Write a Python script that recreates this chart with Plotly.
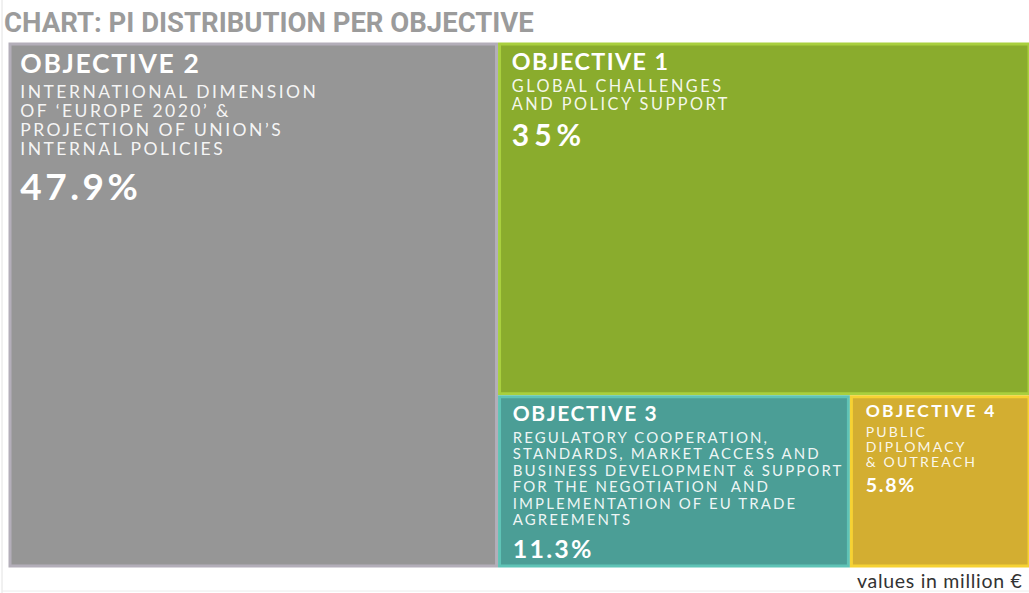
import plotly.graph_objects as go

# ---------------- data ----------------
objectives = ["OBJECTIVE 2", "OBJECTIVE 1", "OBJECTIVE 3", "OBJECTIVE 4"]
descriptions = [
    ["INTERNATIONAL DIMENSION", "OF ‘EUROPE 2020’ &", "PROJECTION OF UNION’S", "INTERNAL POLICIES"],
    ["GLOBAL CHALLENGES", "AND POLICY SUPPORT"],
    ["REGULATORY COOPERATION,", "STANDARDS, MARKET ACCESS AND", "BUSINESS DEVELOPMENT & SUPPORT",
     "FOR THE NEGOTIATION  AND", "IMPLEMENTATION OF EU TRADE", "AGREEMENTS"],
    ["PUBLIC", "DIPLOMACY", "& OUTREACH"],
]
shares = [47.9, 35, 11.3, 5.8]
# treemap hierarchy (groups only define the nesting of the layout)
leaf_ids = ["obj2", "obj1", "obj3", "obj4"]
node_ids = ["root", "obj2", "g1", "obj1", "g2", "obj3", "obj4"]
node_parents = ["", "root", "root", "g1", "g1", "g2", "g2"]

# ---------------- styles ----------------
fills = ["#969696", "#8aac2d", "#4b9e96", "#d3ae31"]
edges = ["#b3aeb9", "#a9cf3e", "#5fc3b6", "#f6d233"]
# per tile: sizes / letter-spacings of title, desc, pct; base size (line step); blank lines; left pad
tstyle = [
    dict(t=26.5, tl=1.7, d=17.5, dl=2.5, p=37, pl=3.5, b=4.87, g1=4, gd=3, gp=7, pad=7),
    dict(t=23.3, tl=1.4, d=16.3, dl=2.5, p=30, pl=5, b=3.46, g1=5, gd=4, gp=8, pad=9),
    dict(t=21, tl=1.6, d=15, dl=2.1, p=25, pl=2.2, b=4.23, g1=4, gd=3, gp=6, pad=10),
    dict(t=17.5, tl=2.2, d=14, dl=2.2, p=19.5, pl=1.8, b=3.85, g1=4, gd=3, gp=5, pad=11),
]


def esc(s):
    return s.replace("&", "&amp;")


def build_text(obj, desc, share, st):
    lead = f"<span style='font-size:1px;letter-spacing:{st['pad']}px'>\u00a0</span>"
    out = lead + f"<b><span style='font-size:{st['t']}px;letter-spacing:{st['tl']}px'>{esc(obj)}</span></b>"
    out += "<br>" * st["g1"]
    out += ("<br>" * st["gd"]).join(
        lead + f"<span style='font-size:{st['d']}px;letter-spacing:{st['dl']}px;"
               f"color:rgba(255,255,255,0.92)'>{esc(line)}</span>" for line in desc)
    out += "<br>" * st["gp"]
    out += lead + f"<b><span style='font-size:{st['p']}px;letter-spacing:{st['pl']}px'>{share:g}%</span></b>"
    return out


values, texts, colors, lcolors, lwidths, tsizes = [], [], [], [], [], []
for node in node_ids:
    if node in leaf_ids:
        i = leaf_ids.index(node)
        values.append(shares[i])
        texts.append(build_text(objectives[i], descriptions[i], shares[i], tstyle[i]))
        colors.append(fills[i])
        lcolors.append(edges[i])
        lwidths.append(3)
        tsizes.append(tstyle[i]["b"])
    else:
        values.append(0)
        texts.append("")
        colors.append("rgba(0,0,0,0)")
        lcolors.append("rgba(0,0,0,0)")
        lwidths.append(0)
        tsizes.append(10)

fig = go.Figure(go.Treemap(
    ids=node_ids,
    labels=node_ids,
    parents=node_parents,
    values=values,
    branchvalues="remainder",
    sort=False,
    text=texts,
    textinfo="text",
    texttemplate="%{text}",
    textposition="top left",
    textfont=dict(family="Lato, 'Open Sans', sans-serif", color="white", size=tsizes),
    marker=dict(colors=colors, line=dict(color=lcolors, width=lwidths),
                pad=dict(t=0, l=0, r=0, b=0), depthfade=False),
    tiling=dict(packing="slice-dice", pad=3),
    pathbar=dict(visible=False),
    hoverinfo="skip",
    domain=dict(x=[10 / 1029, 1.0], y=[1 - 566 / 593, 1 - 44 / 593]),
))

fig.add_annotation(
    text="<b>CHART: PI DISTRIBUTION PER OBJECTIVE</b>",
    xref="paper", yref="paper", x=2 / 1029, y=1 - 22 / 593,
    xanchor="left", yanchor="middle", showarrow=False,
    font=dict(family="'Liberation Sans Narrow', 'Roboto', sans-serif", size=27.5, color="#9b9b9b"),
)
fig.add_annotation(
    text="<span style='letter-spacing:0.7px'>values in million €</span>",
    xref="paper", yref="paper", x=1024 / 1029, y=1 - 580 / 593,
    xanchor="right", yanchor="middle", showarrow=False,
    font=dict(family="Lato, sans-serif", size=19.5, color="#333333"),
)
fig.add_shape(type="line", xref="paper", yref="paper", x0=2 / 1029, x1=2 / 1029, y0=0, y1=1,
              line=dict(color="#e2e2e2", width=1))
fig.add_shape(type="line", xref="paper", yref="paper", x0=2 / 1029, x1=1, y0=1 - 591 / 593, y1=1 - 591 / 593,
              line=dict(color="#ececec", width=1))

fig.update_layout(
    width=1029, height=593,
    margin=dict(l=0, r=0, t=0, b=0),
    paper_bgcolor="white",
    plot_bgcolor="white",
)

fig.write_html("out.html")
